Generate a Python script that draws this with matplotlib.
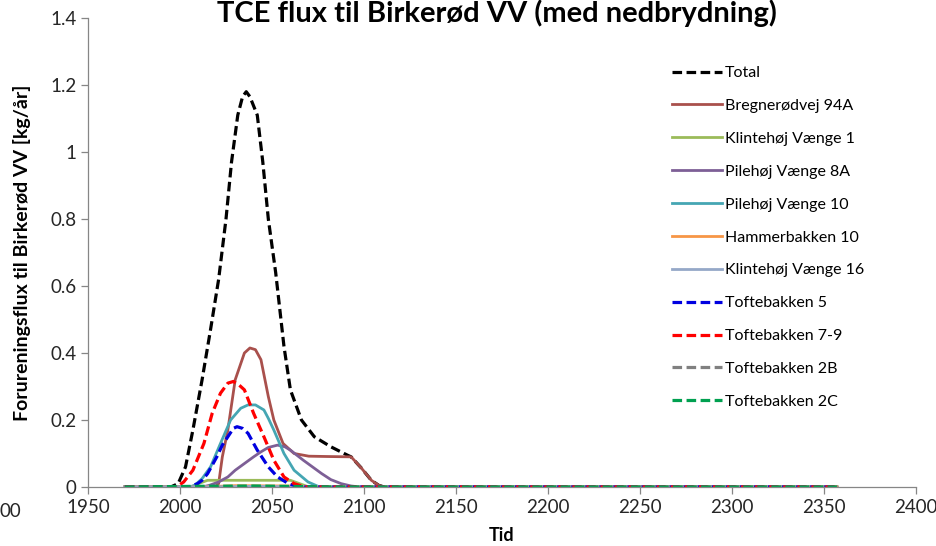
import matplotlib.pyplot as plt

plt.rcParams['font.family'] = ['Lato', 'DejaVu Sans']

# aflæste værdier (år, kg/år)
total_yr = [1970, 1995, 1999, 2003, 2007, 2012, 2016.6, 2021, 2025, 2028, 2031.4, 2034, 2036, 2038,
            2042, 2045, 2048, 2052, 2056.5, 2060, 2066, 2073, 2082, 2091, 2093, 2098.5, 2104, 2108, 2111, 2357]
total_val = [0, 0, 0.01, 0.06, 0.17, 0.32, 0.47, 0.62, 0.80, 0.97, 1.11, 1.165, 1.18, 1.165,
             1.11, 0.97, 0.80, 0.64, 0.42, 0.29, 0.20, 0.15, 0.12, 0.095, 0.09, 0.057, 0.02, 0.005, 0, 0]

breg_yr = [1970, 2019, 2021, 2023, 2026, 2030, 2035, 2038, 2041, 2044, 2048, 2051, 2056, 2062,
           2070, 2080, 2093, 2098.5, 2104, 2108, 2111, 2357]
breg_val = [0, 0, 0.01, 0.09, 0.17, 0.32, 0.40, 0.415, 0.41, 0.38, 0.27, 0.20, 0.13, 0.10,
            0.092, 0.091, 0.09, 0.057, 0.02, 0.005, 0, 0]

klint1_yr = [1970, 2006, 2010, 2015, 2060, 2065, 2070, 2357]
klint1_val = [0, 0, 0.01, 0.02, 0.02, 0.01, 0, 0]

pile8a_yr = [1970, 2012, 2016, 2021, 2026, 2030, 2035, 2040, 2044, 2048, 2053, 2057, 2060, 2067,
             2072, 2077, 2082, 2087.6, 2093, 2098, 2357]
pile8a_val = [0, 0, 0.005, 0.015, 0.03, 0.05, 0.07, 0.09, 0.105, 0.118, 0.125, 0.12, 0.11, 0.08,
              0.06, 0.04, 0.022, 0.01, 0.003, 0, 0]

pile10_yr = [1970, 2005, 2008, 2012, 2016.6, 2022, 2027.5, 2033, 2037, 2041, 2045.6, 2048, 2051,
             2056.5, 2062, 2069.6, 2075, 2080, 2357]
pile10_val = [0, 0, 0.005, 0.025, 0.06, 0.13, 0.20, 0.235, 0.245, 0.245, 0.23, 0.205, 0.17,
              0.10, 0.05, 0.015, 0.002, 0, 0]

hammer_yr = [1970, 2010, 2030, 2060, 2080, 2357]
hammer_val = [0, 0, 0.004, 0.003, 0, 0]

klint16_yr = [1970, 2010, 2040, 2080, 2355]
klint16_val = [0, 0, 0.002, 0, 0]

toft5_yr = [1970, 2005, 2009.5, 2012, 2015, 2020, 2023, 2026, 2029, 2031, 2034, 2037, 2042, 2048,
            2053, 2059, 2065, 2357]
toft5_val = [0, 0, 0.01, 0.02, 0.04, 0.09, 0.125, 0.15, 0.175, 0.18, 0.175, 0.16, 0.11, 0.06,
             0.03, 0.01, 0, 0]

toft79_yr = [1970, 1998, 2002, 2007, 2010, 2013, 2017.5, 2022, 2026, 2029, 2032, 2035, 2040,
             2045.6, 2051, 2056.5, 2062, 2068, 2357]
toft79_val = [0, 0, 0.015, 0.05, 0.09, 0.13, 0.22, 0.28, 0.31, 0.315, 0.305, 0.29, 0.22,
              0.15, 0.08, 0.03, 0.01, 0, 0]

toft2b_yr = [1970, 2357]
toft2b_val = [0, 0]

toft2c_yr = [1970, 2010, 2040, 2085, 2357]
toft2c_val = [0, 0.002, 0.003, 0, 0]

series = [
    ('Total', total_yr, total_val, 'black', True),
    ('Bregnerødvej 94A', breg_yr, breg_val, '#A9504C', False),
    ('Klintehøj Vænge 1', klint1_yr, klint1_val, '#9BBB59', False),
    ('Pilehøj Vænge 8A', pile8a_yr, pile8a_val, '#7D5F96', False),
    ('Pilehøj Vænge 10', pile10_yr, pile10_val, '#45A6B3', False),
    ('Hammerbakken 10', hammer_yr, hammer_val, '#F79646', False),
    ('Klintehøj Vænge 16', klint16_yr, klint16_val, '#95A8C8', False),
    ('Toftebakken 5', toft5_yr, toft5_val, '#0000E0', True),
    ('Toftebakken 7-9', toft79_yr, toft79_val, '#FF0000', True),
    ('Toftebakken 2B', toft2b_yr, toft2b_val, '#808080', True),
    ('Toftebakken 2C', toft2c_yr, toft2c_val, '#00A050', True),
]

fig = plt.figure(figsize=(9.36, 5.46), dpi=100)
ax = fig.add_axes([88/936, 1-487/546, 828/936, 469/546])

for name, x, y, c, dashed in series:
    if dashed:
        ax.plot(x, y, color=c, lw=2.3, dashes=(3, 1.4), label=name, solid_capstyle='butt')
    else:
        ax.plot(x, y, color=c, lw=2.0, label=name)

ax.set_xlim(1950, 2400)
ax.set_ylim(0, 1.4)
ax.set_xticks(range(1950, 2401, 50))
ax.set_yticks([0, 0.2, 0.4, 0.6, 0.8, 1.0, 1.2, 1.4])
ax.set_yticklabels(['0', '0.2', '0.4', '0.6', '0.8', '1', '1.2', '1.4'])
for s in ['top', 'right']:
    ax.spines[s].set_visible(False)
for s in ['left', 'bottom']:
    ax.spines[s].set_color('#868686')
    ax.spines[s].set_linewidth(0.9)
ax.tick_params(colors='#868686', labelcolor='#262626', labelsize=13.5, length=5, width=0.9)
ax.set_xlabel('Tid', fontsize=13, fontweight='bold', labelpad=8)
ax.set_ylabel('Forureningsflux til Birkerød VV [kg/år]', fontsize=14, fontweight='bold')
ax.yaxis.set_label_coords(-57/828, 0.5)

fig.text(497/936, 1-22/546, 'TCE flux til Birkerød VV (med nedbrydning)', ha='center', va='baseline',
         fontsize=21, fontweight='bold')
fig.text(0, 1-517/546, '00', ha='left', va='baseline', fontsize=13.5, color='#262626')

ax.legend(loc='upper left', bbox_to_anchor=(672/936, 1-66/546), bbox_transform=fig.transFigure,
          frameon=False, fontsize=11.5, handlelength=3.1, handletextpad=0.2, labelspacing=1.17,
          borderpad=0, borderaxespad=0)

fig.savefig('out.png', dpi=100)
